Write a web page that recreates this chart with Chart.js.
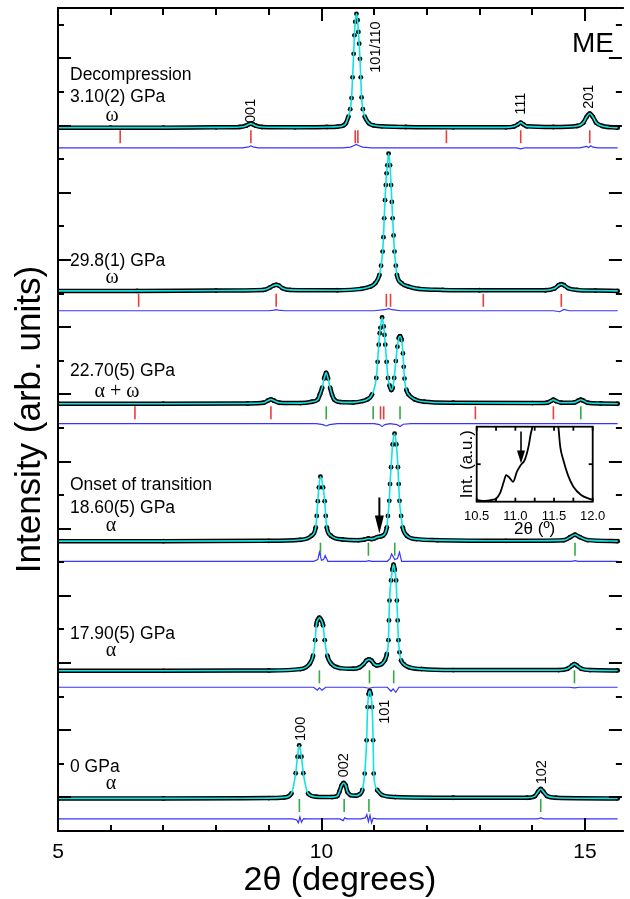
<!DOCTYPE html>
<html>
<head>
<meta charset="utf-8">
<script src="https://cdn.jsdelivr.net/npm/chart.js@4.4.1/dist/chart.umd.min.js"></script>
<style>
html, body { margin: 0; padding: 0; background: #fff; overflow: hidden; }
#wrap { position: relative; width: 630px; height: 899px; }
#main { position: absolute; left: 0; top: 0; }
#inset { position: absolute; left: 440px; top: 420px; }
</style>
</head>
<body>
<div id="wrap">
<canvas id="main" width="630" height="899"></canvas>
<canvas id="inset" width="170" height="125"></canvas>
</div>
<script>
// Observed / calculated profiles (intensity above each pattern's own baseline, arb. units)
// 3.10(2) GPa, decompression, omega phase
const p1x = [5.0, 6.0, 7.0, 8.0, 8.45, 8.57, 8.62, 8.66, 8.70, 8.75, 8.87, 9.5, 10.1, 10.3, 10.42, 10.46, 10.51, 10.545, 10.57, 10.59, 10.61, 10.625, 10.64, 10.663, 10.685, 10.70, 10.715, 10.73, 10.745, 10.76, 10.785, 10.82, 10.90, 10.98, 11.15, 11.6, 12.5, 13.5, 13.66, 13.73, 13.78, 13.83, 13.9, 14.4, 14.85, 14.97, 15.03, 15.09, 15.15, 15.21, 15.33, 15.62];
const p1y = [0, 0, 0, 0.01, 0.02, 0.06, 0.10, 0.12, 0.10, 0.06, 0.02, 0.01, 0.02, 0.03, 0.07, 0.13, 0.33, 0.55, 0.88, 1.50, 2.20, 2.75, 3.15, 3.39, 3.20, 2.85, 2.50, 2.05, 1.50, 0.90, 0.55, 0.33, 0.13, 0.07, 0.04, 0.02, 0.01, 0.01, 0.04, 0.10, 0.15, 0.10, 0.04, 0.02, 0.05, 0.15, 0.32, 0.42, 0.32, 0.15, 0.05, 0];
const p1dx = [5.0, 8.5, 8.62, 8.66, 8.70, 8.8, 10.4, 10.55, 10.62, 10.66, 10.70, 10.78, 10.95, 13.7, 13.78, 13.86, 14.9, 15.03, 15.07, 15.11, 15.15, 15.25, 15.62];
const p1dy = [0, 0, 0.03, 0.06, 0.03, 0, 0, 0.02, 0.07, 0.10, 0.07, 0.02, 0, 0, -0.03, 0, 0, 0.04, 0.01, 0.06, 0.02, 0, 0];
const p1w = [6.18, 8.66, 10.64, 10.69, 12.37, 13.78, 15.09];
const p1a = [];

// 29.8(1) GPa, omega
const p2x = [5.0, 6.5, 8.0, 8.9, 9.02, 9.09, 9.14, 9.19, 9.26, 9.4, 10.3, 10.75, 10.93, 11.02, 11.10, 11.13, 11.16, 11.175, 11.19, 11.205, 11.22, 11.235, 11.25, 11.273, 11.30, 11.32, 11.335, 11.35, 11.367, 11.385, 11.41, 11.43, 11.52, 11.65, 11.85, 12.3, 13.0, 14.25, 14.42, 14.5, 14.55, 14.6, 14.68, 14.85, 15.2, 15.62];
const p2y = [0, 0, 0.01, 0.03, 0.10, 0.16, 0.18, 0.16, 0.08, 0.03, 0.02, 0.06, 0.13, 0.23, 0.48, 0.75, 1.17, 1.60, 2.16, 2.70, 3.15, 3.50, 3.74, 4.09, 3.74, 3.15, 2.65, 2.16, 1.65, 1.17, 0.75, 0.48, 0.23, 0.13, 0.06, 0.03, 0.02, 0.02, 0.07, 0.17, 0.20, 0.17, 0.08, 0.03, 0.01, 0];
const p2dx = [5.0, 9.0, 9.1, 9.14, 9.18, 9.3, 11.0, 11.2, 11.27, 11.34, 11.5, 14.4, 14.52, 14.6, 14.7, 15.62];
const p2dy = [0, 0, 0.02, 0.03, 0.02, 0, 0, 0.03, 0.06, 0.03, 0, 0, -0.03, 0.04, 0, 0];
const p2w = [6.53, 9.14, 11.23, 11.31, 13.07, 14.55];
const p2a = [];

// 22.70(5) GPa, alpha + omega
const p3x = [5.0, 7.0, 8.6, 8.9, 8.98, 9.04, 9.10, 9.2, 9.6, 9.82, 9.93, 9.97, 10.013, 10.05, 10.088, 10.125, 10.163, 10.20, 10.24, 10.36, 10.6, 10.78, 10.87, 10.96, 11.04, 11.065, 11.086, 11.105, 11.118, 11.15, 11.18, 11.195, 11.21, 11.235, 11.262, 11.29, 11.324, 11.35, 11.38, 11.41, 11.44, 11.465, 11.49, 11.52, 11.545, 11.56, 11.575, 11.61, 11.65, 11.77, 11.95, 12.5, 14.0, 14.28, 14.35, 14.40, 14.45, 14.55, 14.8, 14.87, 14.92, 14.97, 15.05, 15.3, 15.62];
const p3y = [0, 0, 0.01, 0.03, 0.09, 0.13, 0.09, 0.03, 0.02, 0.06, 0.13, 0.28, 0.48, 0.75, 0.92, 0.75, 0.48, 0.27, 0.13, 0.05, 0.04, 0.08, 0.13, 0.28, 0.77, 1.25, 1.76, 2.10, 2.26, 2.57, 2.30, 2.05, 1.76, 1.25, 0.77, 0.55, 0.41, 0.48, 0.77, 1.27, 1.70, 1.95, 2.01, 1.90, 1.50, 1.10, 0.75, 0.42, 0.28, 0.13, 0.06, 0.03, 0.02, 0.03, 0.08, 0.12, 0.08, 0.03, 0.04, 0.09, 0.12, 0.09, 0.03, 0.01, 0];
const p3dx = [5.0, 9.9, 10.03, 10.09, 10.15, 10.3, 11.0, 11.1, 11.15, 11.2, 11.3, 11.43, 11.49, 11.55, 11.7, 15.62];
const p3dy = [0, 0, -0.03, -0.07, -0.03, 0, 0, -0.03, -0.09, -0.03, 0, -0.03, -0.09, -0.02, 0, 0];
const p3w = [6.46, 9.04, 11.12, 11.18, 12.92, 14.40];
const p3a = [10.09, 10.98, 11.49, 14.92];

// 18.60(5) GPa, onset of transition, alpha
const p4x = [5.0, 7.0, 9.0, 9.6, 9.81, 9.89, 9.91, 9.93, 9.95, 9.98, 10.03, 10.06, 10.08, 10.10, 10.18, 10.4, 10.7, 10.82, 10.89, 10.95, 11.0, 11.06, 11.12, 11.16, 11.24, 11.26, 11.286, 11.30, 11.32, 11.35, 11.386, 11.42, 11.45, 11.465, 11.48, 11.51, 11.54, 11.62, 11.8, 12.2, 13.5, 14.6, 14.72, 14.81, 14.9, 15.05, 15.62];
const p4y = [0, 0, 0.01, 0.04, 0.16, 0.41, 0.75, 1.19, 1.60, 1.92, 1.60, 1.19, 0.75, 0.41, 0.16, 0.05, 0.03, 0.05, 0.08, 0.06, 0.08, 0.12, 0.14, 0.16, 0.41, 0.75, 1.20, 1.70, 2.20, 2.88, 3.20, 2.88, 2.20, 1.70, 1.20, 0.75, 0.41, 0.16, 0.06, 0.03, 0.01, 0.03, 0.12, 0.19, 0.12, 0.03, 0];
const p4dx = [5.0, 9.85, 9.93, 9.96, 10.0, 10.04, 10.07, 10.12, 10.85, 10.9, 10.95, 11.25, 11.30, 11.33, 11.39, 11.44, 11.48, 11.52, 14.75, 14.81, 14.87, 15.62];
const p4dy = [0, 0, 0.05, 0.27, 0.03, 0.05, 0.17, 0, 0, 0.02, 0, 0, 0.08, 0.22, 0.05, 0.08, 0.27, 0, 0, 0.02, 0, 0];
const p4w = [];
const p4a = [9.98, 10.89, 11.39, 14.81];

// 17.90(5) GPa, alpha
const p5x = [5.0, 7.0, 9.0, 9.6, 9.78, 9.84, 9.88, 9.90, 9.93, 9.96, 9.99, 10.03, 10.06, 10.11, 10.18, 10.35, 10.6, 10.72, 10.80, 10.85, 10.90, 10.95, 11.00, 11.05, 11.14, 11.20, 11.24, 11.27, 11.28, 11.29, 11.32, 11.345, 11.367, 11.39, 11.415, 11.43, 11.445, 11.46, 11.48, 11.51, 11.56, 11.65, 11.9, 12.5, 14.5, 14.67, 14.75, 14.80, 14.85, 14.93, 15.1, 15.62];
const p5y = [0, 0, 0.01, 0.05, 0.22, 0.45, 0.91, 1.35, 1.52, 1.58, 1.52, 1.35, 0.91, 0.45, 0.22, 0.08, 0.06, 0.10, 0.20, 0.30, 0.34, 0.30, 0.20, 0.16, 0.20, 0.31, 0.50, 0.91, 1.50, 2.09, 2.69, 3.00, 3.16, 3.00, 2.69, 2.09, 1.50, 0.91, 0.55, 0.31, 0.20, 0.11, 0.05, 0.02, 0.02, 0.06, 0.15, 0.20, 0.15, 0.06, 0.02, 0.01];
const p5dx = [5.0, 9.85, 9.92, 9.96, 10.01, 10.08, 10.8, 10.9, 11.0, 11.25, 11.32, 11.36, 11.41, 11.47, 14.7, 14.8, 14.9, 15.62];
const p5dy = [0, 0, -0.09, -0.02, -0.09, 0, 0, -0.03, 0, 0, -0.12, -0.05, -0.15, 0, 0, -0.02, 0, 0];
const p5w = [];
const p5a = [9.96, 10.91, 11.37, 14.80];

// 0 GPa, alpha
const p6x = [5.0, 7.0, 9.0, 9.3, 9.43, 9.51, 9.545, 9.577, 9.62, 9.655, 9.745, 9.9, 10.2, 10.3, 10.34, 10.38, 10.42, 10.46, 10.49, 10.55, 10.65, 10.72, 10.775, 10.82, 10.856, 10.875, 10.895, 10.915, 10.935, 10.96, 10.98, 10.99, 11.056, 11.15, 11.4, 12.5, 13.9, 14.05, 14.11, 14.16, 14.21, 14.28, 14.45, 15.62];
const p6y = [0, 0, 0.01, 0.03, 0.15, 0.75, 1.24, 1.58, 1.24, 0.75, 0.15, 0.05, 0.04, 0.07, 0.20, 0.38, 0.46, 0.38, 0.20, 0.10, 0.08, 0.12, 0.25, 0.74, 1.73, 2.72, 3.10, 3.20, 3.10, 2.72, 1.73, 0.74, 0.25, 0.10, 0.04, 0.02, 0.02, 0.07, 0.20, 0.28, 0.20, 0.07, 0.02, 0];
const p6dx = [5.0, 9.45, 9.53, 9.56, 9.59, 9.62, 9.66, 9.72, 10.35, 10.41, 10.44, 10.48, 10.75, 10.83, 10.86, 10.89, 10.92, 10.95, 10.98, 11.05, 14.1, 14.16, 14.22, 15.62];
const p6dy = [0, 0, -0.03, -0.12, 0.06, -0.10, 0.01, 0, 0, -0.05, 0.03, 0, 0, 0.03, 0.13, -0.08, 0.11, -0.12, 0.02, 0, 0, 0.03, 0, 0];
const p6w = [];
const p6a = [9.58, 10.43, 10.90, 14.16];

// stacking offsets of each pattern (profile, reflection markers, difference)
const obsBase = [20.94, 16.08, 12.72, 8.63, 4.77, 0.97];
const tickBase = [20.67, 15.80, 12.45, 8.39, 4.59, 0.76];
const diffBase = [20.34, 15.49, 12.13, 8.03, 4.28, 0.36];

const pressureText = [['Decompression', '3.10(2) GPa'], ['29.8(1) GPa'], ['22.70(5) GPa'], ['Onset of transition', '18.60(5) GPa'], ['17.90(5) GPa'], ['0 GPa']];
const phaseText = ['ω', 'ω', 'α + ω', 'α', 'α', 'α'];
const xTickLabels = [5, 10, 15];

// inset: zoom of the 18.60 GPa pattern
const insetX = [10.50, 10.60, 10.70, 10.75, 10.80, 10.85, 10.88, 10.92, 10.97, 11.02, 11.07, 11.12, 11.17, 11.20, 11.22, 11.25, 11.52, 11.556, 11.58, 11.62, 11.68, 11.75, 11.85, 11.95, 12.00];
const insetY = [0.05, 0.02, 0.05, 0.08, 0.22, 0.53, 0.71, 0.65, 0.53, 0.80, 0.98, 1.11, 1.47, 1.82, 2.00, 2.60, 2.60, 2.00, 1.47, 1.11, 0.71, 0.40, 0.18, 0.08, 0.05];
const insetTickLabels = ['10.5', '11.0', '11.5', '12.0'];

const SANS = '"Liberation Sans", Arial, sans-serif';
const SERIF = '"Liberation Serif", "Times New Roman", serif';
const RED = '#ee3b3b', GREEN = '#36a844', BLUE = '#3535ff', CYAN = '#12e2e2';

function pts(xs, ys, base) { return xs.map((v, i) => ({ x: v, y: ys[i] + base })); }
function marks(xs, base) { return xs.map(v => ({ x: v, y: base })); }

// hide the black observed line on steep flanks, so only the dots show there
const steep = c => Math.abs(c.p1.y - c.p0.y) > 1.6 * Math.abs(c.p1.x - c.p0.x) + 4 ? 'rgba(0,0,0,0)' : undefined;

const patterns = [
    [p1x, p1y, p1dx, p1dy, p1w, p1a],
    [p2x, p2y, p2dx, p2dy, p2w, p2a],
    [p3x, p3y, p3dx, p3dy, p3w, p3a],
    [p4x, p4y, p4dx, p4dy, p4w, p4a],
    [p5x, p5y, p5dx, p5dy, p5w, p5a],
    [p6x, p6y, p6dx, p6dy, p6w, p6a]
];

const datasets = [];
patterns.forEach((p, k) => {
    // calculated profile (cyan) on top
    datasets.push({ data: pts(p[0], p[1], obsBase[k]), borderColor: CYAN, borderWidth: 1.6, pointRadius: 0, cubicInterpolationMode: 'monotone', order: 0 });
    // observed
    datasets.push({ data: pts(p[0], p[1], obsBase[k]), borderColor: '#000', borderWidth: 4.5, segment: { borderColor: steep },
        pointRadius: 2.4, pointBackgroundColor: '#000', pointBorderWidth: 0, cubicInterpolationMode: 'monotone', order: 1 });
    // difference
    datasets.push({ data: pts(p[2], p[3], diffBase[k]), borderColor: BLUE, borderWidth: 1.2, pointRadius: 0, tension: 0, order: 2 });
    // reflection markers
    if (p[4].length) datasets.push({ data: marks(p[4], tickBase[k]), showLine: false, pointStyle: 'line', pointRotation: 90, pointRadius: 6.5, pointBorderColor: RED, pointBorderWidth: 1.6, order: 2 });
    if (p[5].length) datasets.push({ data: marks(p[5], tickBase[k]), showLine: false, pointStyle: 'line', pointRotation: 90, pointRadius: 6.5, pointBorderColor: GREEN, pointBorderWidth: 1.6, order: 2 });
});

function seg(ctx, x0, y0, x1, y1) { ctx.beginPath(); ctx.moveTo(x0, y0); ctx.lineTo(x1, y1); ctx.stroke(); }
function arrow(ctx, x, y0, y1, headLen, headW) {
    seg(ctx, x, y0, x, y1 - headLen + 1);
    ctx.beginPath(); ctx.moveTo(x, y1); ctx.lineTo(x - headW / 2, y1 - headLen); ctx.lineTo(x + headW / 2, y1 - headLen); ctx.closePath(); ctx.fill();
}
function vtext(ctx, s, x, y) { ctx.save(); ctx.translate(x, y); ctx.rotate(-Math.PI / 2); ctx.fillText(s, 0, 0); ctx.restore(); }

const framePlugin = {
    id: 'frame',
    afterDraw(chart) {
        const { ctx, chartArea: a, scales: { x, y } } = chart;
        ctx.save();
        ctx.strokeStyle = '#000'; ctx.fillStyle = '#000'; ctx.lineWidth = 2;
        ctx.beginPath();
        ctx.moveTo(a.right + 2, a.top); ctx.lineTo(a.left, a.top); ctx.lineTo(a.left, a.bottom); ctx.lineTo(a.right + 2, a.bottom);
        ctx.stroke();
        for (let v = 0; v <= 24; v++) {
            const py = Math.round(y.getPixelForValue(v)), len = v % 2 ? 13 : 6;
            seg(ctx, a.left, py, a.left + len, py);
            seg(ctx, a.right, py, a.right - len, py);
        }
        for (let v = 5; v <= 15; v++) {
            const px = Math.round(x.getPixelForValue(v)), major = v % 5 === 0;
            seg(ctx, px, a.bottom, px, a.bottom - (major ? 13 : 6));
            seg(ctx, px, a.top, px, a.top + (major ? 13 : 7));
        }
        // x tick labels and axis titles
        ctx.textAlign = 'center'; ctx.textBaseline = 'alphabetic';
        ctx.font = '21px ' + SANS;
        xTickLabels.forEach(v => ctx.fillText(String(v), x.getPixelForValue(v), 858));
        ctx.font = '34px ' + SANS;
        ctx.fillText('2θ (degrees)', (a.left + a.right) / 2, 890);
        ctx.font = '35px ' + SANS;
        vtext(ctx, 'Intensity (arb. units)', 40, (a.top + a.bottom) / 2);
        ctx.font = '28px ' + SANS;
        ctx.fillText('ME', 593, 52);

        // pattern labels
        ctx.textAlign = 'left';
        ctx.font = '17.5px ' + SANS;
        const lineY = [[79.5, 102], [266], [376], [490, 512.5], [638.5], [772]];
        pressureText.forEach((lines, k) => lines.forEach((s, j) => ctx.fillText(s, 70, lineY[k][j])));
        ctx.textAlign = 'center';
        ctx.font = '20px ' + SERIF;
        const phaseY = [121, 283, 397, 531, 656, 789];
        const phaseX = [112, 112, 117, 111, 111, 111];
        phaseText.forEach((s, k) => ctx.fillText(s, phaseX[k], phaseY[k]));

        // hkl labels
        ctx.font = '14.5px ' + SANS; ctx.textBaseline = 'middle';
        [['001', 8.66, 21.44], ['101/110', 11.04, 23.34], ['111', 13.79, 21.65], ['201', 15.08, 21.86],
         ['100', 9.62, 3.04], ['002', 10.42, 1.96], ['101', 11.21, 3.55], ['102', 14.18, 1.75]]
            .forEach(([s, hx, hy]) => vtext(ctx, s, x.getPixelForValue(hx), y.getPixelForValue(hy)));

        // arrow marking the new reflection at onset of transition
        ctx.lineWidth = 2;
        arrow(ctx, x.getPixelForValue(11.098), y.getPixelForValue(9.93), y.getPixelForValue(8.86), 18, 9);
        ctx.restore();
    }
};

new Chart(document.getElementById('main'), {
    type: 'line',
    data: { datasets },
    options: {
        responsive: false, animation: false, devicePixelRatio: 1, events: [],
        layout: { padding: { left: 58, top: 6, right: 0, bottom: 68 } },
        scales: {
            x: { type: 'linear', min: 5, max: 15.7, display: false },
            y: { type: 'linear', min: 0, max: 24.5, display: false }
        },
        plugins: { legend: { display: false }, tooltip: { enabled: false } }
    },
    plugins: [framePlugin]
});

// Inset
const insetPlugin = {
    id: 'insetFrame',
    beforeDatasetsDraw(chart) {
        const { ctx, chartArea: a } = chart;
        ctx.save(); ctx.fillStyle = '#fff'; ctx.fillRect(a.left, a.top, a.right - a.left, a.bottom - a.top); ctx.restore();
    },
    afterDraw(chart) {
        const { ctx, chartArea: a, scales: { x, y } } = chart;
        ctx.save();
        ctx.strokeStyle = '#000'; ctx.fillStyle = '#000'; ctx.lineWidth = 1.8;
        ctx.strokeRect(a.left, a.top, a.right - a.left, a.bottom - a.top);
        for (let v = 10.5; v <= 12.001; v += 0.25) {
            const px = x.getPixelForValue(v);
            seg(ctx, px, a.bottom, px, a.bottom - 4);
            seg(ctx, px, a.top, px, a.top + 4);
        }
        const py = y.getPixelForValue(1);
        seg(ctx, a.left, py, a.left + 4, py);
        seg(ctx, a.right, py, a.right - 4, py);
        ctx.textAlign = 'center'; ctx.textBaseline = 'alphabetic';
        ctx.font = '13px ' + SANS;
        insetTickLabels.forEach(s => ctx.fillText(s, x.getPixelForValue(parseFloat(s)), 100));
        ctx.font = '17px ' + SANS;
        ctx.fillText('2θ (º)', (a.left + a.right) / 2, 113.5);
        vtext(ctx, 'Int. (a.u.)', 32, (a.top + a.bottom) / 2);
        ctx.lineWidth = 1.6;
        arrow(ctx, x.getPixelForValue(11.073), y.getPixelForValue(1.87), y.getPixelForValue(1.02), 13, 8);
        ctx.restore();
    }
};

new Chart(document.getElementById('inset'), {
    type: 'line',
    data: { datasets: [{ data: pts(insetX, insetY, 0), borderColor: '#000', borderWidth: 1.8, pointRadius: 0, cubicInterpolationMode: 'monotone' }] },
    options: {
        responsive: false, animation: false, devicePixelRatio: 1, events: [],
        layout: { padding: { left: 36.7, right: 17.3, top: 6.7, bottom: 43.3 } },
        scales: {
            x: { type: 'linear', min: 10.5, max: 12.0, display: false },
            y: { type: 'linear', min: 0, max: 2, display: false }
        },
        plugins: { legend: { display: false }, tooltip: { enabled: false } }
    },
    plugins: [insetPlugin]
});
</script>
</body>
</html>
